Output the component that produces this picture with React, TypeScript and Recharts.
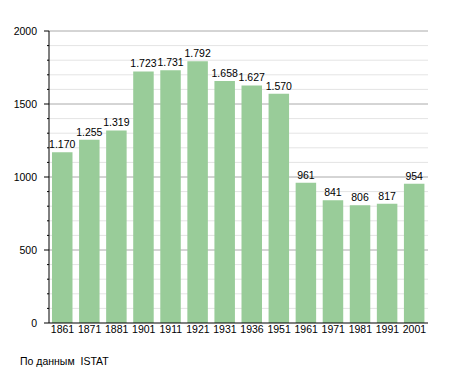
import React from 'react';
import { BarChart, Bar, XAxis, YAxis, CartesianGrid, LabelList } from 'recharts';

const years = ['1861', '1871', '1881', '1901', '1911', '1921', '1931', '1936', '1951', '1961', '1971', '1981', '1991', '2001'];
const population = [1170, 1255, 1319, 1723, 1731, 1792, 1658, 1627, 1570, 961, 841, 806, 817, 954];
const majorTicks = [0, 500, 1000, 1500, 2000];
const minorTicks = [100, 200, 300, 400, 600, 700, 800, 900, 1100, 1200, 1300, 1400, 1600, 1700, 1800, 1900];
const allTicks = [...majorTicks, ...minorTicks].sort((a, b) => a - b);

const data = years.map((year, i) => ({ year, value: population[i] }));

const FONT = '"Liberation Sans", Arial, sans-serif';

const fmt = (v: number) => (v >= 1000 ? String(v).replace(/(\d)(\d{3})$/, '$1.$2') : String(v));

const YTick = (props: any) => {
  const { x, y, payload } = props;
  const axisX = x + 7;
  const major = majorTicks.includes(payload.value);
  return (
    <g>
      <line x1={axisX - (major ? 5 : 2)} y1={y} x2={axisX} y2={y} stroke="#000" strokeWidth={1} />
      {major && (
        <text x={axisX - 12} y={y} dy="0.35em" textAnchor="end" fontSize={10.5} fontFamily={FONT} fill="#000">
          {payload.value}
        </text>
      )}
    </g>
  );
};

export default function App() {
  return (
    <div style={{ position: 'absolute', left: 0, top: 0, width: 455, height: 373, background: '#fff' }}>
      <BarChart width={455} height={373} data={data} margin={{ top: 31, right: 27, left: 9, bottom: 0 }}
                barCategoryGap={0}>
        <CartesianGrid vertical={false} horizontalValues={minorTicks} stroke="#e4e4e4" />
        <CartesianGrid vertical={false} horizontalValues={majorTicks.filter(v => v > 0)} stroke="#aaaaaa" />
        <XAxis dataKey="year" tickLine={false} tickSize={0} tickMargin={3} height={50} interval={0}
               axisLine={{ stroke: '#000' }} tick={{ fontSize: 10.5, fontFamily: FONT, fill: '#000' }} />
        <YAxis domain={[0, 2000]} ticks={allTicks} interval={0} width={40} tickLine={false} tickSize={5}
               tickMargin={2} axisLine={{ stroke: '#000' }} tick={<YTick />} />
        <Bar dataKey="value" fill="#99cc99" barSize={20.5} isAnimationActive={false}>
          <LabelList dataKey="value" position="top" offset={4} formatter={(v: any) => fmt(Number(v))}
                     style={{ fontSize: 10.5, fontFamily: FONT, fill: '#000' }} />
        </Bar>
      </BarChart>
      <div style={{ position: 'absolute', left: 20, top: 355, fontSize: 10.5, fontFamily: FONT, whiteSpace: 'pre', color: '#000' }}>
        {'По данным  ISTAT'}
      </div>
    </div>
  );
}
